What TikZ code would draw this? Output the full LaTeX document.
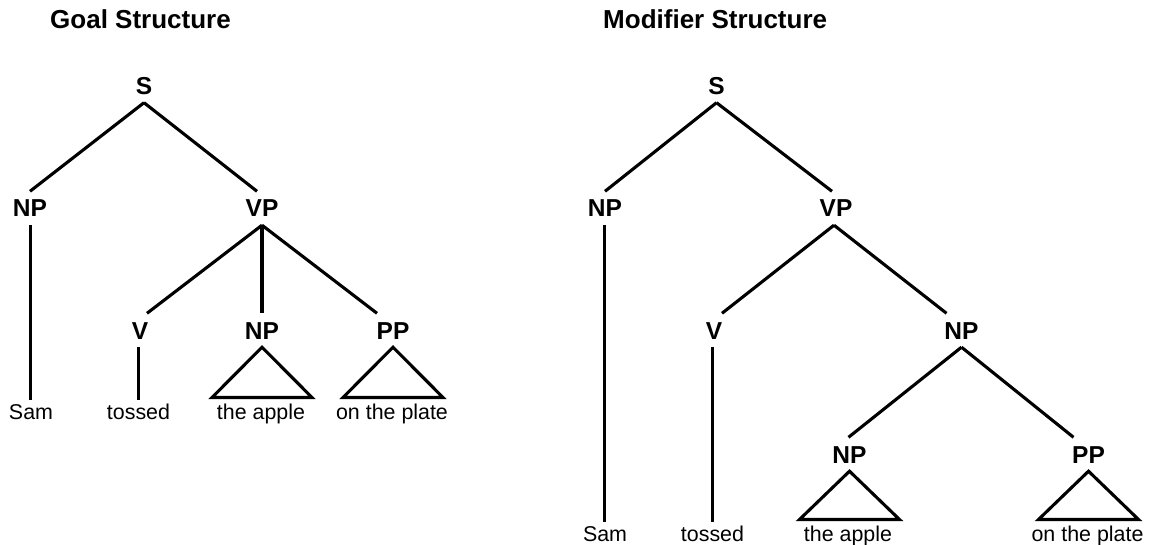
\documentclass[tikz,border=0pt]{standalone}
\usepackage{fontspec}
\setmainfont{Liberation Sans}
\begin{document}
\begin{tikzpicture}[x=1pt,y=-1pt,
  title/.style={font=\fontsize{26}{30}\selectfont\bfseries, anchor=base west, inner sep=0pt},
  cat/.style={font=\fontsize{24.5}{28}\selectfont\bfseries, anchor=base,
              inner xsep=0pt, inner ysep=8pt, text height=17.5pt, text depth=0pt},
  leaf/.style={font=\fontsize{21.4}{25}\selectfont, anchor=base,
               inner xsep=0pt, inner ysep=4pt, text height=15.3pt, text depth=0pt},
  branch/.style={line width=3.1pt},
  roof/.style={line width=3.1pt, line join=miter}]
\useasboundingbox (0,0) rectangle (1155,545);

% ---------------- Goal structure ----------------
\node[title] (t1) at (50,29) {Goal Structure};
\node[cat] (S1)  at (144,94.5) {S};
\node[cat] (NP1) at (30,217) {NP};
\node[cat] (VP1) at (262,217) {VP};
\node[cat] (V1)  at (140,339) {V};
\node[cat] (NP1b) at (262,339) {NP};
\node[cat] (PP1) at (393,339) {PP};
\node[leaf] (sam1)   at (31,419) {Sam};
\node[leaf] (toss1)  at (138.5,419) {tossed};
\node[leaf] (apple1) at (261,419) {the apple};
\node[leaf] (plate1) at (392,419) {on the plate};

\draw[branch] (S1.south) -- (NP1.north);
\draw[branch] (S1.south) -- ([xshift=-5pt]VP1.north);
\draw[branch] (VP1.south) -- ([xshift=7pt]V1.north);
\draw[branch] (VP1.south) -- (NP1b.north);
\draw[branch] (VP1.south) -- ([xshift=-16pt]PP1.north);
\draw[branch] ([xshift=0.5pt]NP1.south) -- ([xshift=0.5pt]NP1.south |- sam1.north);
\draw[branch] ([xshift=-1.5pt]V1.south) -- ([xshift=-1.5pt]V1.south |- toss1.north);
\draw[roof] (NP1b.south) -- ([xshift=-50pt,yshift=2pt]NP1b.south |- apple1.north)
  -- ([xshift=50pt,yshift=2pt]NP1b.south |- apple1.north) -- cycle;
\draw[roof] (PP1.south) -- ([xshift=-50pt,yshift=2pt]PP1.south |- plate1.north)
  -- ([xshift=50pt,yshift=2pt]PP1.south |- plate1.north) -- cycle;

% ---------------- Modifier structure ----------------
\node[title] (t2) at (603,29) {Modifier Structure};
\node[cat] (S2)   at (716.5,94.5) {S};
\node[cat] (NP2)  at (605,217) {NP};
\node[cat] (VP2)  at (836,217) {VP};
\node[cat] (V2)   at (714,339) {V};
\node[cat] (NP2b) at (961.5,339) {NP};
\node[cat] (NP2c) at (849.5,463) {NP};
\node[cat] (PP2)  at (1088.5,463) {PP};
\node[leaf] (sam2)   at (605,541) {Sam};
\node[leaf] (toss2)  at (712.5,541) {tossed};
\node[leaf] (apple2) at (848,541) {the apple};
\node[leaf] (plate2) at (1087.5,541) {on the plate};

\draw[branch] (S2.south) -- (NP2.north);
\draw[branch] (S2.south) -- ([xshift=-4pt]VP2.north);
\draw[branch] ([xshift=-2pt]VP2.south) -- ([xshift=8pt]V2.north);
\draw[branch] ([xshift=-2pt]VP2.south) -- ([xshift=-15pt]NP2b.north);
\draw[branch] (NP2b.south) -- ([xshift=-1pt]NP2c.north);
\draw[branch] (NP2b.south) -- ([xshift=-15pt]PP2.north);
\draw[branch] ([xshift=-0.5pt]NP2.south) -- ([xshift=-0.5pt]NP2.south |- sam2.north);
\draw[branch] ([xshift=-1.5pt]V2.south) -- ([xshift=-1.5pt]V2.south |- toss2.north);
\draw[roof] (NP2c.south) -- ([xshift=-50pt,yshift=2pt]NP2c.south |- apple2.north)
  -- ([xshift=50pt,yshift=2pt]NP2c.south |- apple2.north) -- cycle;
\draw[roof] (PP2.south) -- ([xshift=-50pt,yshift=2pt]PP2.south |- plate2.north)
  -- ([xshift=50pt,yshift=2pt]PP2.south |- plate2.north) -- cycle;
\end{tikzpicture}
\end{document}
